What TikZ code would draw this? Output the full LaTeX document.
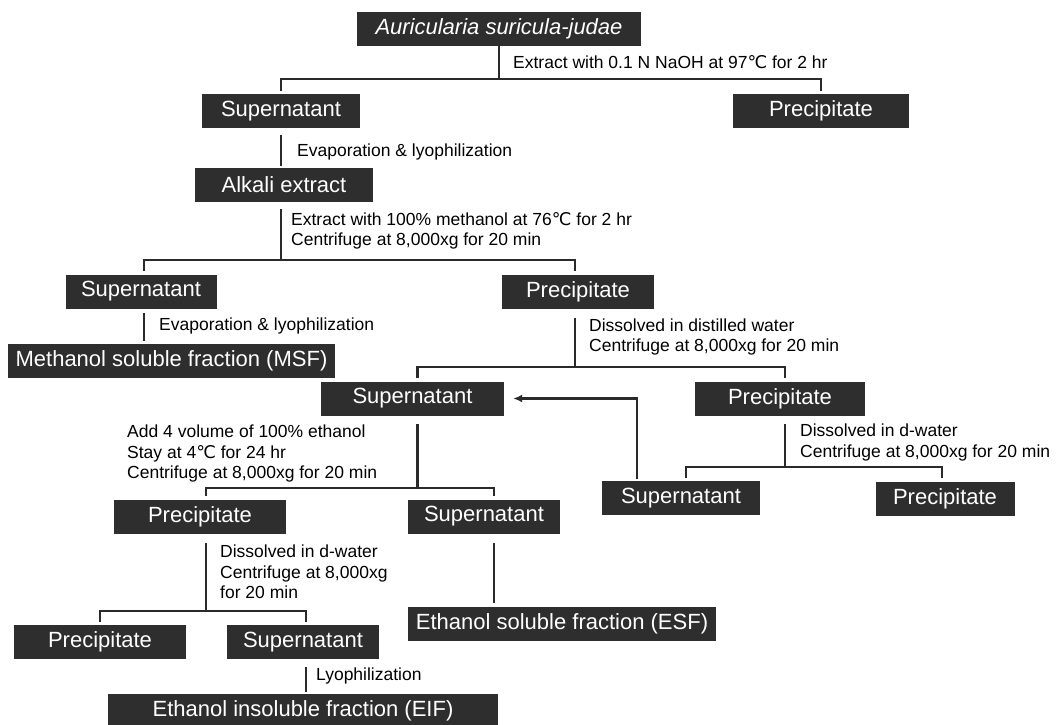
\documentclass[tikz,border=0pt]{standalone}
\usepackage{fontspec}
\setmainfont{Liberation Sans}
\newfontfamily\symfont{DejaVu Sans}
\usetikzlibrary{arrows.meta}

\definecolor{boxgray}{HTML}{2E2E2E}
\definecolor{linegray}{HTML}{2A2A2A}
\newcommand{\degC}{{\symfont ℃}}

\tikzset{
  box/.style={fill=boxgray, text=white, minimum height=34pt, inner sep=0pt,
    font=\fontsize{22}{26}\selectfont},
  link/.style={draw=linegray, line width=2.2pt},
  branch/.style={link, shorten <=3pt, shorten >=3pt},
  note/.style={anchor=west, align=left, inner sep=0pt,
    font=\fontsize{17.5}{20.5}\selectfont},
}

\begin{document}
\begin{tikzpicture}[x=1pt,y=-1pt]
\useasboundingbox (0,0) rectangle (1058,724);

% boxes
\node[box,minimum width=284pt] (auri) at (499,29) {\itshape Auricularia suricula-judae};
\node[box,minimum width=158pt] (sup1) at (281,111) {Supernatant};
\node[box,minimum width=176pt] (ppt1) at (821,111) {Precipitate};
\node[box,minimum width=178pt] (alk) at (284,185) {Alkali extract};
\node[box,minimum width=151pt] (sup2) at (141,291.5) {Supernatant};
\node[box,minimum width=152pt] (ppt2) at (578,291.5) {Precipitate};
\node[box,minimum width=327pt] (msf) at (171.5,360.5) {Methanol soluble fraction (MSF)};
\node[box,minimum width=183pt] (sup3) at (412.5,398.5) {Supernatant};
\node[box,minimum width=170pt] (ppt3) at (780,398.5) {Precipitate};
\node[box,minimum width=158pt] (sup4) at (681,498) {Supernatant};
\node[box,minimum width=139pt] (ppt4) at (945,498.5) {Precipitate};
\node[box,minimum width=172pt] (ppt5) at (200,516.5) {Precipitate};
\node[box,minimum width=152pt] (sup5) at (484,516.5) {Supernatant};
\node[box,minimum width=308pt] (esf) at (562,623.5) {Ethanol soluble fraction (ESF)};
\node[box,minimum width=172pt] (ppt6) at (100,642) {Precipitate};
\node[box,minimum width=152pt] (sup6) at (303,642) {Supernatant};
\node[box,minimum width=390pt] (eif) at (303,711) {Ethanol insoluble fraction (EIF)};

% step notes
\node[note] (n1) at (513,62) {Extract with 0.1 N NaOH at 97\degC{} for 2 hr};
\node[note] (n2) at (297,152) {Evaporation \& lyophilization};
\node[note] (n3) at (291,231) {Extract with 100\% methanol at 76\degC{} for 2 hr\\Centrifuge at 8,000xg for 20 min};
\node[note] (n4) at (159,326) {Evaporation \& lyophilization};
\node[note] (n5) at (589,337) {Dissolved in distilled water\\Centrifuge at 8,000xg for 20 min};
\node[note] (n6) at (127,453.5) {Add 4 volume of 100\% ethanol\\Stay at 4\degC{} for 24 hr\\Centrifuge at 8,000xg for 20 min};
\node[note] (n7) at (800,442.5) {Dissolved in d-water\\Centrifuge at 8,000xg for 20 min};
\node[note] (n8) at (220,572) {Dissolved in d-water\\Centrifuge at 8,000xg\\for 20 min};
\node[note] (n9) at (316,676) {Lyophilization};

% connectors
\draw[link] (auri.south) -- ++(0,33) coordinate (s1);
\draw[branch] (sup1.north) |- (s1) -| (ppt1.north);
\draw[link,shorten <=7pt,shorten >=2pt] (sup1.south) -- (sup1.south |- alk.north);

\draw[link,shorten <=7pt] ([xshift=-3pt]alk.south) -- ++(0,58) coordinate (s2);
\draw[branch] ([xshift=3pt]sup2.north) |- (s2) -| ([xshift=-3pt]ppt2.north);
\draw[link,shorten <=4pt,shorten >=2pt] ([xshift=3pt]sup2.south) -- ([xshift=3pt]sup2.south |- msf.north);

\draw[link,shorten <=9pt] ([xshift=-3pt]ppt2.south) -- ++(0,58) coordinate (s3);
\draw[branch] ([xshift=5pt]sup3.north) |- (s3) -| ([xshift=5pt]ppt3.north);

\draw[link,shorten <=8pt] ([xshift=5pt]sup3.south) -- ++(0,72) coordinate (s4);
\draw[branch] ([xshift=6pt]ppt5.north) |- (s4) -| ([xshift=10pt]sup5.north);
\draw[link,shorten <=9pt,shorten >=3pt] ([xshift=10pt]sup5.south) -- ([xshift=10pt]sup5.south |- esf.north);

\draw[link,shorten <=8pt] ([xshift=5pt]ppt3.south) -- ++(0,51) coordinate (s5);
\draw[branch] ([xshift=5pt]sup4.north) |- (s5) -| ([xshift=-3pt]ppt4.north);
\draw[link,-{Latex[length=9pt,width=8pt]},shorten <=2pt,shorten >=9pt] ([xshift=-44pt]sup4.north) |- (sup3.east);

\draw[link,shorten <=9pt] ([xshift=6pt]ppt5.south) -- ++(0,77) coordinate (s6);
\draw[branch] (ppt6.north) |- (s6) -| ([xshift=3pt]sup6.north);
\draw[link,shorten <=8pt,shorten >=2pt] ([xshift=3pt]sup6.south) -- ([xshift=3pt]sup6.south |- eif.north);
\end{tikzpicture}
\end{document}
